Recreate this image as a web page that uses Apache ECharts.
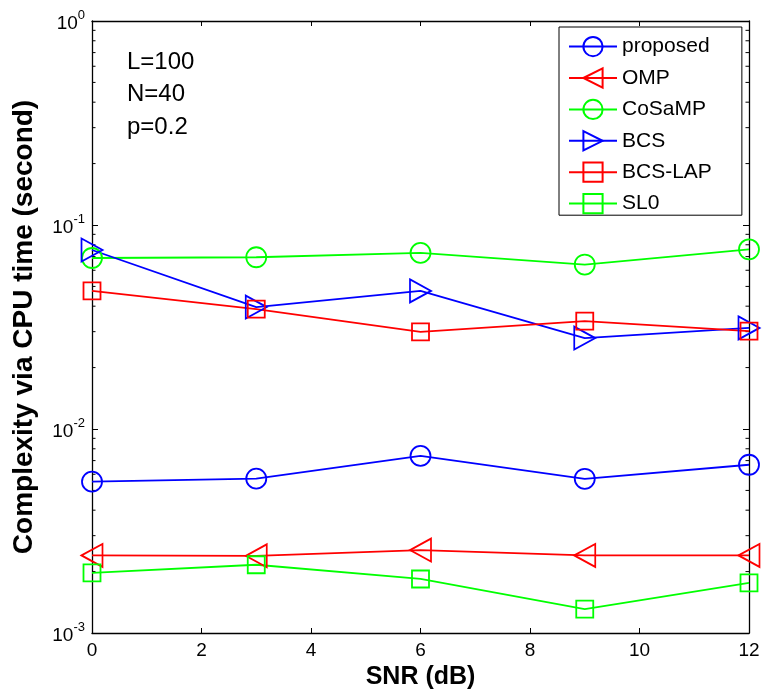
<!DOCTYPE html>
<html>
<head>
<meta charset="utf-8">
<script src="https://cdn.jsdelivr.net/npm/echarts@6/dist/echarts.min.js"></script>
<style>
html,body{margin:0;padding:0;background:#fff;}
#chart{width:762px;height:692px;}
</style>
</head>
<body>
<div id="chart"></div>
<script>
// ---- data ----
const snr = [0, 3, 6, 9, 12];
const seriesNames = ['proposed', 'OMP', 'CoSaMP', 'BCS', 'BCS-LAP', 'SL0'];
const proposed = [0.00552, 0.00571, 0.00738, 0.0057, 0.00668];
const omp = [0.0024, 0.00239, 0.00255, 0.0024, 0.0024];
const cosamp = [0.0689, 0.0695, 0.073, 0.064, 0.076];
const bcs = [0.0754, 0.0396, 0.0475, 0.0279, 0.0313];
const bcsLap = [0.0475, 0.0387, 0.0299, 0.0338, 0.0302];
const sl0 = [0.00197, 0.00216, 0.00184, 0.00131, 0.00176];
const xTicks = [0, 2, 4, 6, 8, 10, 12];
const yMin = 0.001, yMax = 1;
const minorTickValues = [];
[0.001, 0.01, 0.1].forEach(function (d) { for (let k = 2; k <= 9; k++) minorTickValues.push(d * k); });
const annotation = ['L=100', 'N=40', 'p=0.2'];

const FONT = '"Liberation Sans", Arial, sans-serif';
const BLUE = '#0000ff', RED = '#ff0000', GREEN = '#00ff00';
const TRI_LEFT = 'path://M0,5 L10,0 L10,10 Z';
const TRI_RIGHT = 'path://M0,0 L10,5 L0,10 Z';

function pairs(arr) { return arr.map(function (v, i) { return [snr[i], v]; }); }

function lineSeries(name, data, color, symbol, size) {
  return {
    name: name, type: 'line', data: pairs(data),
    color: color,
    symbol: symbol, symbolSize: size, symbolKeepAspect: false,
    showAllSymbol: true,
    lineStyle: { color: color, width: 1.8 },
    itemStyle: { color: 'rgba(255,255,255,0)', borderColor: color, borderWidth: 1.8 },
    emphasis: { disabled: true },
    animation: false, z: 3
  };
}

const chart = echarts.init(document.getElementById('chart'), null, { renderer: 'canvas' });
const option = {
  animation: false,
  backgroundColor: '#fff',
  textStyle: { fontFamily: FONT },
  grid: { left: 92, right: 13, top: 21, bottom: 59, containLabel: false, outerBoundsMode: 'none' },
  xAxis: [{
    type: 'value', min: 0, max: 12, interval: 2,
    name: 'SNR (dB)', nameLocation: 'middle', nameGap: 23,
    nameTextStyle: { fontFamily: FONT, fontSize: 25, fontWeight: 'bold', color: '#000' },
    axisLine: { show: true, onZero: false, lineStyle: { color: '#000', width: 1.3 } },
    axisTick: { show: true, inside: true, length: 5, lineStyle: { color: '#000' } },
    axisLabel: { fontFamily: FONT, fontSize: 19, color: '#000', margin: 8 },
    splitLine: { show: false }
  }, {
    type: 'value', min: 0, max: 12, interval: 2, position: 'top',
    axisLine: { show: true, onZero: false, lineStyle: { color: '#000', width: 1.3 } },
    axisTick: { show: true, inside: true, length: 5, lineStyle: { color: '#000' } },
    axisLabel: { show: false }, splitLine: { show: false }
  }],
  yAxis: [{
    type: 'log', logBase: 10, min: yMin, max: yMax,
    name: 'Complexity via CPU time (second)', nameLocation: 'middle', nameGap: 54,
    nameTextStyle: { fontFamily: FONT, fontSize: 28, fontWeight: 'bold', color: '#000' },
    axisLine: { show: true, onZero: false, lineStyle: { color: '#000', width: 1.3 } },
    axisTick: { show: true, inside: true, length: 6, lineStyle: { color: '#000' } },
    axisLabel: {
      margin: 7, color: '#000',
      formatter: function (v) {
        const e = Math.round(Math.log10(v));
        return '{b|10}{s|' + e + '}';
      },
      rich: {
        b: { fontFamily: FONT, fontSize: 19, color: '#000', lineHeight: 24, verticalAlign: 'bottom' },
        s: { fontFamily: FONT, fontSize: 13, color: '#000', lineHeight: 24, verticalAlign: 'top' }
      }
    },
    splitLine: { show: false }
  }, {
    type: 'log', logBase: 10, min: yMin, max: yMax, position: 'right',
    axisLine: { show: true, onZero: false, lineStyle: { color: '#000', width: 1.3 } },
    axisTick: { show: true, inside: true, length: 6, lineStyle: { color: '#000' } },
    axisLabel: { show: false }, splitLine: { show: false }
  }],
  legend: {
    data: seriesNames,
    orient: 'vertical',
    left: 559, top: 27,
    padding: [9, 30, 1, 9],
    itemWidth: 48, itemHeight: 24, itemGap: 10.2,
    backgroundColor: '#fff',
    borderColor: '#000', borderWidth: 1,
    borderRadius: 0,
    selectedMode: false,
    textStyle: { fontFamily: FONT, fontSize: 21, color: '#000', lineHeight: 20 }
  },
  graphic: annotation.map(function (t, i) {
    return {
      type: 'text', left: 127, top: 50 + i * 32.5,
      style: { text: t, font: '24px ' + FONT, fill: '#000' }
    };
  }),
  series: [
    lineSeries('proposed', proposed, BLUE, 'circle', 20),
    lineSeries('OMP', omp, RED, TRI_LEFT, [21, 23]),
    lineSeries('CoSaMP', cosamp, GREEN, 'circle', 20),
    lineSeries('BCS', bcs, BLUE, TRI_RIGHT, [21, 23]),
    lineSeries('BCS-LAP', bcsLap, RED, 'rect', 17),
    lineSeries('SL0', sl0, GREEN, 'rect', 17),
    {
      name: 'minorTicks', type: 'custom', silent: true, animation: false, z: 2,
      data: minorTickValues.map(function (v) { return [0, v]; }),
      renderItem: function (params, api) {
        const cs = params.coordSys;
        const y = api.coord([0, api.value(1)])[1];
        const len = 3.5;
        return {
          type: 'group',
          children: [
            { type: 'line', shape: { x1: cs.x, y1: y, x2: cs.x + len, y2: y }, style: { stroke: '#000', lineWidth: 1 } },
            { type: 'line', shape: { x1: cs.x + cs.width, y1: y, x2: cs.x + cs.width - len, y2: y }, style: { stroke: '#000', lineWidth: 1 } }
          ]
        };
      }
    }
  ]
};
chart.setOption(option);
</script>
</body>
</html>
